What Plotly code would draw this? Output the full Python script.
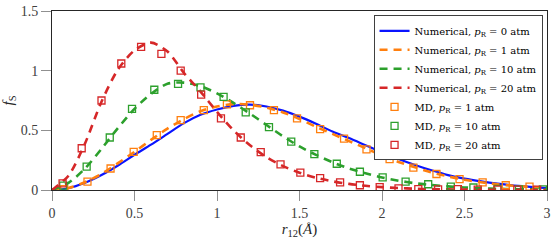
import plotly.graph_objects as go

# ---- data ----
r_num = [0.0, 0.1, 0.2, 0.3, 0.4, 0.5, 0.6, 0.7, 0.8, 0.9, 1.0, 1.1, 1.2, 1.3, 1.4, 1.5,
         1.6, 1.7, 1.8, 1.9, 2.0, 2.1, 2.2, 2.3, 2.4, 2.5, 2.6, 2.7, 2.8, 2.9, 3.0]

num_p0 = [0.0, 0.015, 0.06, 0.125, 0.205, 0.295, 0.38, 0.47, 0.56, 0.63, 0.675, 0.705, 0.715,
          0.70, 0.665, 0.615, 0.555, 0.49, 0.435, 0.375, 0.315, 0.26, 0.21, 0.165, 0.125,
          0.095, 0.072, 0.053, 0.038, 0.026, 0.016]
num_p1 = [0.0, 0.017, 0.065, 0.135, 0.225, 0.32, 0.42, 0.515, 0.595, 0.66, 0.70, 0.72, 0.715,
          0.69, 0.65, 0.595, 0.53, 0.47, 0.41, 0.35, 0.29, 0.235, 0.19, 0.148, 0.114,
          0.086, 0.065, 0.048, 0.035, 0.026, 0.018]
num_p10 = [0.0, 0.06, 0.18, 0.345, 0.52, 0.68, 0.805, 0.89, 0.90, 0.87, 0.81, 0.73, 0.64,
           0.545, 0.45, 0.365, 0.295, 0.233, 0.18, 0.14, 0.105, 0.078, 0.057, 0.042, 0.03,
           0.021, 0.015, 0.01, 0.007, 0.005, 0.003]
num_p20 = [0.0, 0.12, 0.39, 0.74, 1.01, 1.17, 1.235, 1.16, 0.98, 0.825, 0.655, 0.50, 0.375,
           0.275, 0.20, 0.145, 0.103, 0.073, 0.051, 0.035, 0.024, 0.016, 0.011, 0.007, 0.005,
           0.003, 0.002, 0.001, 0.001, 0.0, 0.0]

md_r_p1 = [0.074, 0.215, 0.355, 0.495, 0.635, 0.78, 0.92, 1.06, 1.20, 1.345, 1.485, 1.625,
           1.77, 1.906, 2.046, 2.19, 2.33, 2.47, 2.61, 2.75, 2.894]
md_f_p1 = [0.008, 0.07, 0.18, 0.32, 0.46, 0.585, 0.67, 0.718, 0.71, 0.67, 0.60, 0.51,
           0.43, 0.34, 0.258, 0.188, 0.134, 0.091, 0.064, 0.04, 0.029]

md_r_p10 = [0.068, 0.21, 0.35, 0.485, 0.62, 0.764, 0.90, 1.04, 1.174, 1.315, 1.45, 1.59,
            1.726, 1.866, 2.004, 2.143, 2.28, 2.417, 2.554, 2.70, 2.83, 2.975]
md_f_p10 = [0.037, 0.196, 0.44, 0.68, 0.84, 0.89, 0.86, 0.78, 0.65, 0.527, 0.405, 0.30,
            0.22, 0.153, 0.105, 0.07, 0.048, 0.029, 0.021, 0.01, 0.005, 0.005]

md_r_p20 = [0.064, 0.18, 0.30, 0.42, 0.54, 0.663, 0.78, 0.904, 1.024, 1.144, 1.265, 1.385,
            1.505, 1.625, 1.746, 1.866, 1.986, 2.10, 2.22, 2.34, 2.46, 2.58, 2.70, 2.82, 2.94]
md_f_p20 = [0.056, 0.35, 0.75, 1.06, 1.20, 1.14, 1.0, 0.80, 0.60, 0.44, 0.317, 0.215,
            0.145, 0.10, 0.064, 0.04, 0.024, 0.013, 0.008, 0.005, 0.008, 0.003, 0.003, 0.003, 0.003]

x_ticks = [0, 0.5, 1, 1.5, 2, 2.5, 3]
x_tick_labels = ["0", "0.5", "1", "1.5", "2", "2.5", "3"]
y_ticks = [0, 0.5, 1, 1.5]
y_tick_labels = ["0", "0.5", "1", "1.5"]

BLUE = "#0a14ff"
ORANGE = "#ff7f0e"
GREEN = "#2ca02c"
RED = "#d62728"
PR = "<i>p</i><sub>R</sub>"

fig = go.Figure()

num_series = [
    (num_p0, BLUE, "solid", 2.2, f"Numerical, {PR} = 0 atm"),
    (num_p1, ORANGE, "8px,6px", 2.6, f"Numerical, {PR} = 1 atm"),
    (num_p10, GREEN, "8px,6px", 2.6, f"Numerical, {PR} = 10 atm"),
    (num_p20, RED, "8px,6px", 2.6, f"Numerical, {PR} = 20 atm"),
]
for ys, col, dash, w, name in num_series:
    fig.add_trace(go.Scatter(x=r_num, y=ys, mode="lines", name=name,
                             line=dict(color=col, dash=dash, width=w, shape="spline", smoothing=0.8)))

md_series = [
    (md_r_p1, md_f_p1, ORANGE, f"MD, {PR} = 1 atm"),
    (md_r_p10, md_f_p10, GREEN, f"MD, {PR} = 10 atm"),
    (md_r_p20, md_f_p20, RED, f"MD, {PR} = 20 atm"),
]
for xs, ys, col, name in md_series:
    fig.add_trace(go.Scatter(x=xs, y=ys, mode="markers", name=name,
                             marker=dict(symbol="square-open", size=7, color=col,
                                         line=dict(width=1.3, color=col))))

FONT = "Liberation Serif, Times New Roman, serif"
LFONT = "DejaVu Serif, serif"
AX = "#262626"

fig.update_layout(
    width=555, height=242,
    margin=dict(l=52, r=4, t=5, b=52),
    paper_bgcolor="white", plot_bgcolor="white",
    font=dict(family=FONT, size=13, color=AX),
    showlegend=True,
    legend=dict(x=0.991, y=0.976, xanchor="right", yanchor="top",
                xref="paper", yref="paper",
                bgcolor="white", bordercolor="#404040", borderwidth=1,
                font=dict(family=LFONT, size=10, color="black"),
                itemwidth=30, tracegroupgap=0),
    xaxis=dict(range=[0, 3], tickvals=x_ticks, ticktext=x_tick_labels,
               showgrid=False, zeroline=False, showline=True, linecolor=AX, linewidth=1,
               mirror=True, ticks="outside", ticklen=10, tickcolor="#909090", tickwidth=1.2,
               ticklabeloverflow="allow",
               tickfont=dict(family=FONT, size=14, color="#404040"),
               title=dict(text="<i>r</i><sub>12</sub>(<i>Å</i>)", standoff=0,
                          font=dict(family=FONT, size=15, color=AX))),
    yaxis=dict(range=[0, 1.5], tickvals=y_ticks, ticktext=y_tick_labels,
               showgrid=False, zeroline=False, showline=True, linecolor=AX, linewidth=1,
               mirror=True, ticks="outside", ticklen=10, tickcolor="#909090", tickwidth=1.2,
               ticklabeloverflow="allow",
               tickfont=dict(family=FONT, size=14, color="#404040"),
               title=dict(text="<i>f</i><sub>S</sub>", standoff=6,
                          font=dict(family=FONT, size=15, color=AX))),
)

fig.write_html("out.html", config={"displayModeBar": False},
               post_script="document.body.style.margin='0';")
